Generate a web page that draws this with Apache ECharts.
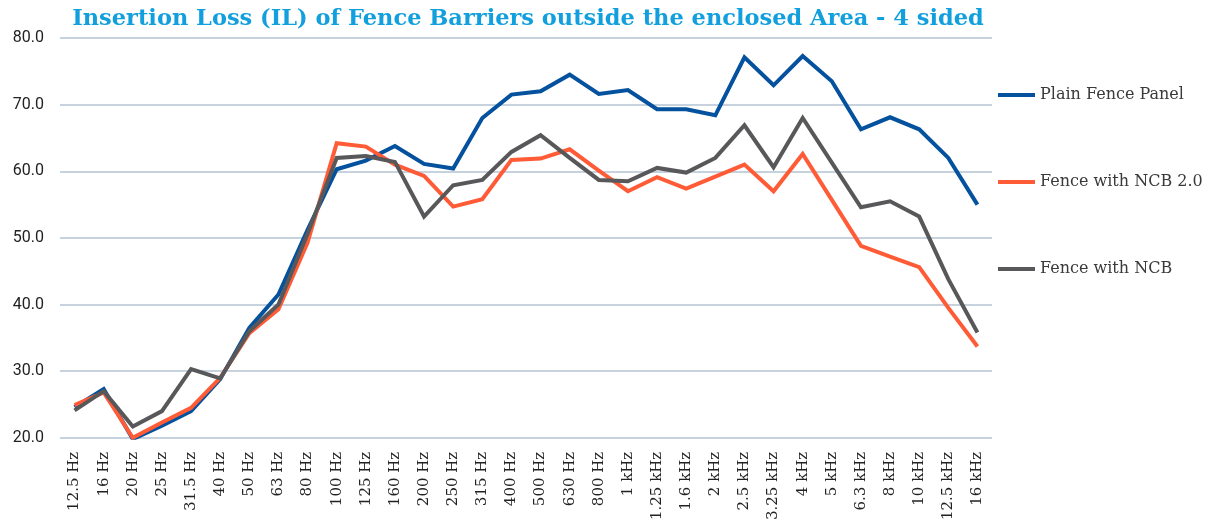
<!DOCTYPE html>
<html>
<head>
<meta charset="utf-8">
<script src="https://cdn.jsdelivr.net/npm/echarts@6/dist/echarts.min.js"></script>
<style>
  html, body { margin: 0; padding: 0; background: #fff; }
  #main { width: 1214px; height: 523px; }
</style>
</head>
<body>
<div id="main"></div>
<script>
// frequency bands
var bands = ['12.5 Hz', '16 Hz', '20 Hz', '25 Hz', '31.5 Hz', '40 Hz', '50 Hz', '63 Hz', '80 Hz',
  '100 Hz', '125 Hz', '160 Hz', '200 Hz', '250 Hz', '315 Hz', '400 Hz', '500 Hz', '630 Hz', '800 Hz',
  '1 kHz', '1.25 kHz', '1.6 kHz', '2 kHz', '2.5 kHz', '3.25 kHz', '4 kHz', '5 kHz', '6.3 kHz',
  '8 kHz', '10 kHz', '12.5 kHz', '16 kHz'];

// IL values (dB)
var plainFence = [24.6, 27.3, 19.8, 21.8, 24.0, 28.8, 36.5, 41.5, 51.2,
  60.3, 61.6, 63.8, 61.1, 60.4, 68.0, 71.5, 72.0, 74.5, 71.6,
  72.2, 69.3, 69.3, 68.4, 77.1, 72.9, 77.3, 73.5, 66.3,
  68.1, 66.3, 62.0, 55.0];
var ncb20 = [24.9, 26.8, 20.0, 22.3, 24.5, 29.0, 35.7, 39.3, 49.3,
  64.2, 63.7, 61.0, 59.3, 54.7, 55.8, 61.7, 61.9, 63.3, 60.1,
  57.0, 59.1, 57.4, 59.2, 61.0, 57.0, 62.6, 55.7, 48.8,
  47.2, 45.6, 39.5, 33.7];
var ncb = [24.1, 27.0, 21.7, 24.0, 30.3, 28.9, 36.0, 40.0, 50.6,
  62.0, 62.3, 61.4, 53.2, 57.9, 58.7, 62.9, 65.4, 62.0, 58.7,
  58.5, 60.5, 59.8, 62.0, 66.9, 60.6, 68.0, 61.3, 54.6,
  55.5, 53.2, 43.8, 35.8];

var yTicks = { min: 20, max: 80, step: 10 };

var chart = echarts.init(document.getElementById('main'));

function line(name, data, color) {
  return {
    name: name,
    type: 'line',
    data: data,
    symbol: 'none',
    lineStyle: { color: color, width: 4, join: 'miter' },
    itemStyle: { color: color }
  };
}

var option = {
  backgroundColor: '#fff',
  animation: false,
  title: {
    text: 'Insertion Loss (IL) of Fence Barriers outside the enclosed Area - 4 sided',
    left: 523,
    textAlign: 'center',
    top: 3,
    textStyle: { fontFamily: 'DejaVu Serif', fontWeight: 'bold', fontSize: 22.5, color: '#129fdd' }
  },
  legend: {
    orient: 'vertical',
    left: 993,
    top: 82,
    itemGap: 71,
    itemWidth: 37,
    itemHeight: 4,
    icon: 'rect',
    textStyle: { fontFamily: 'DejaVu Serif', fontSize: 16, color: '#3a3a3a' },
    data: ['Plain Fence Panel', 'Fence with NCB 2.0', 'Fence with NCB']
  },
  grid: { left: 60, top: 38, width: 932, height: 400, containLabel: false },
  xAxis: {
    type: 'category',
    data: bands,
    boundaryGap: true,
    axisLine: { show: false },
    axisTick: { show: false },
    axisLabel: {
      rotate: 90,
      interval: 0,
      margin: 14,
      fontFamily: 'DejaVu Serif',
      fontSize: 15,
      color: '#222'
    }
  },
  yAxis: {
    type: 'value',
    min: yTicks.min,
    max: yTicks.max,
    interval: yTicks.step,
    axisLine: { show: false },
    axisTick: { show: false },
    axisLabel: {
      margin: 16,
      fontFamily: 'Roboto',
      fontSize: 16,
      color: '#222',
      formatter: function (v) { return v.toFixed(1); }
    },
    splitLine: { lineStyle: { color: '#b3c3d3', width: 1.5 } }
  },
  series: [
    line('Plain Fence Panel', plainFence, '#04519e'),
    line('Fence with NCB 2.0', ncb20, '#ff5b36'),
    line('Fence with NCB', ncb, '#58585a')
  ]
};

chart.setOption(option);
</script>
</body>
</html>
